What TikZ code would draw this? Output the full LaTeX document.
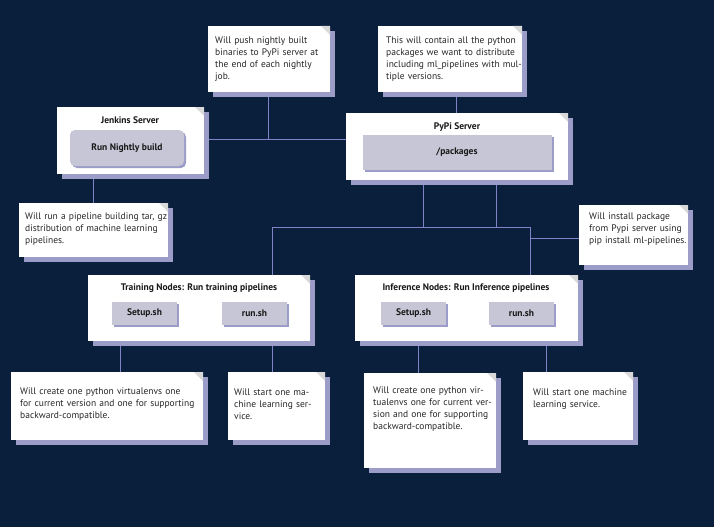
\documentclass[tikz,border=0pt]{standalone}
\usepackage{fontspec}
\setmainfont{PT Sans}
\begin{document}
\begin{tikzpicture}[x=1pt,y=-1pt,
  box/.style={draw=none,fill=white},
  shad/.style={fill=gray!70!blue!60},
  conn/.style={draw=gray!60!blue!70,line width=0.6pt},
  ntext/.style={anchor=north west,align=left,font=\fontsize{9.5}{12}\selectfont,inner sep=0pt,text=black!85},
  ttl/.style={font=\bfseries\fontsize{9.5}{12}\selectfont,text=black!90},
  inner/.style={fill=gray!25!blue!10!white!85!black,font=\bfseries\fontsize{9.5}{12}\selectfont,text=black!90}]
\definecolor{bg}{HTML}{0A1F3C}
\fill[bg] (0,0) rectangle (714,527);
\useasboundingbox (0,0) rectangle (714,527);
% helper: box with shadow
\newcommand\mybox[5]{% name, x1,y1,x2,y2
  \fill[shad] (#2+5,#3+5) rectangle (#4+5,#5+5);
  \fill[white] (#2,#3) rectangle (#4,#5);
  \fill[gray!30] (#4-9,#3) -- (#4,#3+9) -- (#4,#3) -- cycle;
  \path (#2,#3) coordinate (#1-nw) (#4,#5) coordinate (#1-se)
        ({(#2+#4)/2},#3) coordinate (#1-n) ({(#2+#4)/2},#5) coordinate (#1-s)
        (#2,{(#3+#5)/2}) coordinate (#1-w) (#4,{(#3+#5)/2}) coordinate (#1-e);}
% connectors first
\coordinate (jr) at (204,139); \coordinate (pl) at (346,139);
\coordinate (j1) at (268,139);
\coordinate (h1) at (272,227); \coordinate (h2) at (530,227);
\coordinate (p1) at (423,227); \coordinate (p2) at (496,227);
\coordinate (i1) at (530,238);
\draw[conn] (jr) -- (pl);
\draw[conn] (268,92) -- (j1);
\draw[conn] (456,92) -- (456,113);
\draw[conn] (93,174) -- (93,203);
\draw[conn] (423,180) -- (p1);
\draw[conn] (496,180) -- (p2);
\draw[conn] (h1) -- (h2);
\draw[conn] (h1) -- (272,275);
\draw[conn] (h2) -- (530,275);
\draw[conn] (i1) -- (579,238);
\draw[conn] (120,341) -- (120,372);
\draw[conn] (272,341) -- (272,372);
\draw[conn] (418,341) -- (418,373);
\draw[conn] (546,341) -- (546,372);
% boxes
\mybox{n1}{208}{26}{330}{92}
\node[ntext,text width=110pt] (t1) at (215,37) {Will push nightly built binaries to PyPi server at the end of each nightly job.};
\mybox{n2}{378}{26}{522}{92}
\node[ntext,text width=140pt] (t2) at (386,37) {This will contain all the python packages we want to distribute including ml\_pipelines with multiple versions.};
\mybox{jk}{57}{107}{204}{174}
\node[ttl] (jt) at (130,120) {Jenkins Server};
\fill[gray!70!blue!60,rounded corners=5pt] (72,132) rectangle (186,168);
\node[inner,rounded corners=5pt,minimum width=114pt,minimum height=36pt] (jb) at (127,148) {Run Nightly build};
\mybox{pp}{346}{113}{568}{180}
\node[ttl] (pt) at (457,127) {PyPi Server};
\fill[gray!70!blue!60] (365,137) rectangle (554,172);
\node[inner,minimum width=189pt,minimum height=35pt] (pb) at (457,152) {/packages};
\mybox{n3}{19}{203}{168}{257}
\node[ntext,text width=145pt] (t3) at (25,213) {Will run a pipeline building tar, gz distribution of machine learning pipelines.};
\mybox{n4}{579}{205}{688}{265}
\node[ntext,text width=100pt] (t4) at (589,213) {Will install package from Pypi server using pip install ml-pipelines.};
% training
\mybox{tr}{88}{275}{310}{341}
\node[ttl] (trt) at (199,288) {Training Nodes: Run training pipelines};
\fill[gray!70!blue!60] (114,304) rectangle (179,327);
\node[inner,minimum width=65pt,minimum height=23pt] (ts) at (144.5,313.5) {Setup.sh};
\fill[gray!70!blue!60] (224,304) rectangle (289,327);
\node[inner,minimum width=65pt,minimum height=23pt] (tr2) at (254.5,313.5) {run.sh};
% inference
\mybox{in}{355}{275}{578}{341}
\node[ttl] (int) at (466,288) {Inference Nodes: Run Inference pipelines};
\fill[gray!70!blue!60] (383,304) rectangle (448,327);
\node[inner,minimum width=65pt,minimum height=23pt] (is) at (413.5,313.5) {Setup.sh};
\fill[gray!70!blue!60] (491,304) rectangle (556,327);
\node[inner,minimum width=65pt,minimum height=23pt] (ir) at (521.5,313.5) {run.sh};
% bottom notes
\mybox{b1}{11}{372}{203}{440}
\node[ntext,text width=185pt] (tb1) at (20,388) {Will create one python virtualenvs one for current version and one for supporting backward-compatible.};
\mybox{b2}{228}{372}{325}{440}
\node[ntext,text width=90pt] (tb2) at (234,389) {Will start one machine learning service.};
\mybox{b3}{364}{373}{496}{468}
\node[ntext,text width=125pt] (tb3) at (373,387) {Will create one python virtualenvs one for current version and one for supporting backward-compatible.};
\mybox{b4}{523}{372}{633}{440}
\node[ntext,text width=100pt] (tb4) at (533,389) {Will start one machine learning service.};
\end{tikzpicture}
\end{document}
